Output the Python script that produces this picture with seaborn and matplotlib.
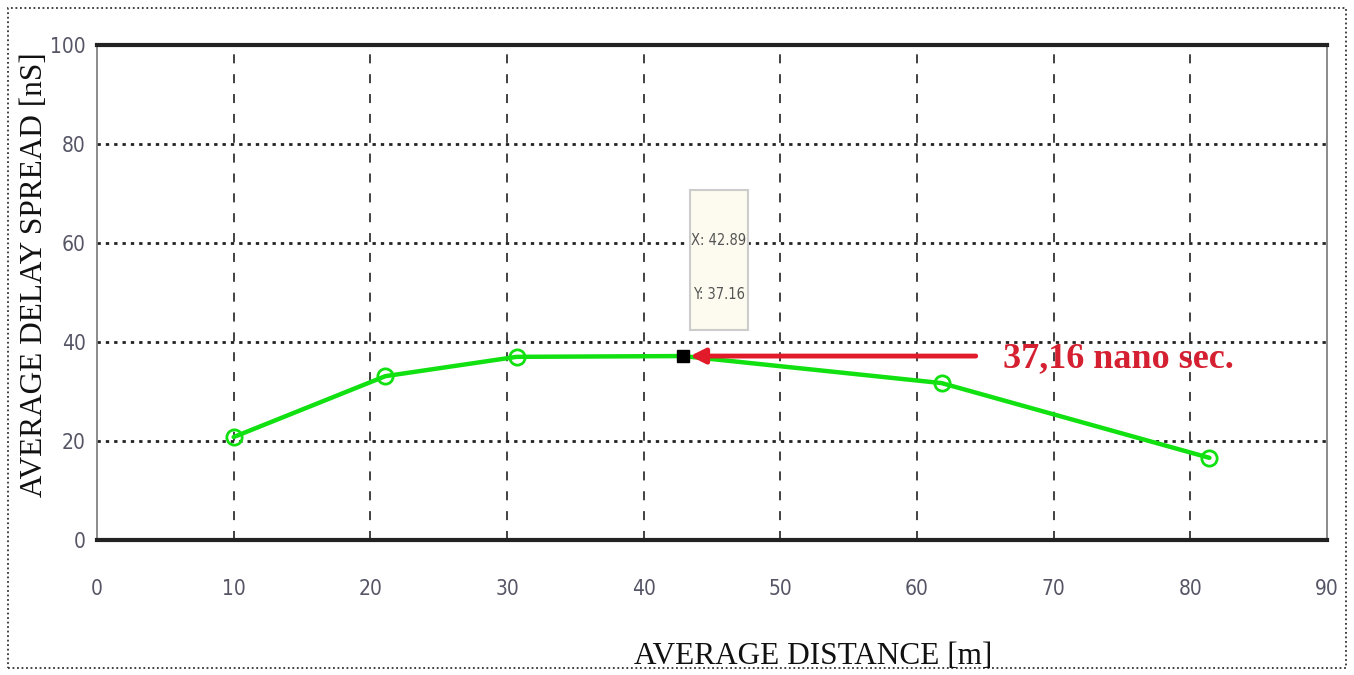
import matplotlib
matplotlib.use("Agg")
import matplotlib.pyplot as plt
import seaborn as sns
import pandas as pd
from matplotlib.patches import Rectangle

# Data
distance = [10.0, 21.1, 30.7, 42.89, 61.8, 81.4]
delay_spread = [20.8, 33.1, 37.0, 37.16, 31.7, 16.6]
marker_distance = [10.0, 21.1, 30.7, 61.8, 81.4]
marker_delay = [20.8, 33.1, 37.0, 31.7, 16.6]
x_ticks = [0, 10, 20, 30, 40, 50, 60, 70, 80, 90]
y_ticks = [0, 20, 40, 60, 80, 100]
tip_x = 42.89
tip_y = 37.16
annotation_text = "37,16 nano sec."

sns.set_style("white")
plt.rcParams['font.family'] = ['Liberation Serif', 'DejaVu Serif']

fig = plt.figure(figsize=(13.54, 6.75), dpi=100)
ax = fig.add_axes([97/1354, 1-540/675, (1327-97)/1354, (540-45)/675])

df = pd.DataFrame({"d": distance, "s": delay_spread})
sns.lineplot(data=df, x="d", y="s", ax=ax, color="#11e011", linewidth=3.2, zorder=3)
ax.plot(marker_distance, marker_delay, linestyle="none", marker="o",
        markerfacecolor="none", markeredgecolor="#11e011", markeredgewidth=2,
        markersize=11, zorder=4)
ax.set_xlabel("")
ax.set_ylabel("")

ax.set_xlim(0, 90)
ax.set_ylim(0, 100)
ax.set_xticks(x_ticks)
ax.set_yticks(y_ticks)

# Grid: vertical dashed, horizontal dotted
for xv in x_ticks[1:-1]:
    ax.axvline(xv, color="#333333", linestyle=(0, (5, 6)), linewidth=1.3, zorder=1)
for yv in y_ticks[1:-1]:
    ax.axhline(yv, color="#222222", linestyle=(0, (1.2, 1.8)), linewidth=2.0, zorder=1)

for side in ["top", "bottom"]:
    ax.spines[side].set_linewidth(3)
    ax.spines[side].set_color("#222222")
for side in ["left", "right"]:
    ax.spines[side].set_linewidth(1.2)
    ax.spines[side].set_color("#777777")

tick_font = dict(family=['DejaVu Sans'], stretch="condensed", size=15, color="#555566")
ax.set_xticklabels([str(v) for v in x_ticks], **tick_font)
ax.set_yticklabels([str(v) for v in y_ticks], **tick_font)
ax.tick_params(axis="x", pad=28, length=0)
ax.tick_params(axis="y", pad=8, length=0)

fig.text(813/1354, 1-657/675, "AVERAGE DISTANCE [m]", ha="center", va="center",
         fontsize=22.5, color="#111111")
fig.text(35/1354, 1-275/675, "AVERAGE DELAY SPREAD [nS]", ha="center", va="center",
         rotation=90, fontsize=22.5, color="#111111")

# Data tip
ax.plot([tip_x], [tip_y], marker="s", color="black", markersize=8, zorder=6)
tip_box = Rectangle((43.4, 42.5), 4.2, 28.3, facecolor="#fdfbef", edgecolor="#cccccc",
                    linewidth=1.5, zorder=5)
ax.add_patch(tip_box)
ax.text(45.5, 60.6, f"X: {tip_x}", ha="center", va="center", zorder=6,
        family=['DejaVu Sans'], stretch="condensed", fontsize=10.5, color="#555555")
ax.text(45.5, 49.5, f"Y: {tip_y}", ha="center", va="center", zorder=6,
        family=['DejaVu Sans'], stretch="condensed", fontsize=10.5, color="#555555")

# Red arrow annotation
ax.annotate("", xy=(tip_x + 0.3, tip_y), xytext=(64.5, tip_y),
            arrowprops=dict(arrowstyle="-|>", color="#e21b2b", linewidth=3.5,
                            mutation_scale=22), zorder=7)
ax.text(66.3, tip_y - 0.5, annotation_text, ha="left", va="center",
        fontsize=26, fontweight="bold", color="#d42030", zorder=7)

# Dotted border around figure
border = Rectangle((8/1354, 1-668/675), (1346-8)/1354, (668-8)/675,
                   transform=fig.transFigure, fill=False, edgecolor="#333333",
                   linestyle=(0, (1, 1.5)), linewidth=1.3)
fig.patches.append(border)

fig.savefig("out.png", dpi=100)
